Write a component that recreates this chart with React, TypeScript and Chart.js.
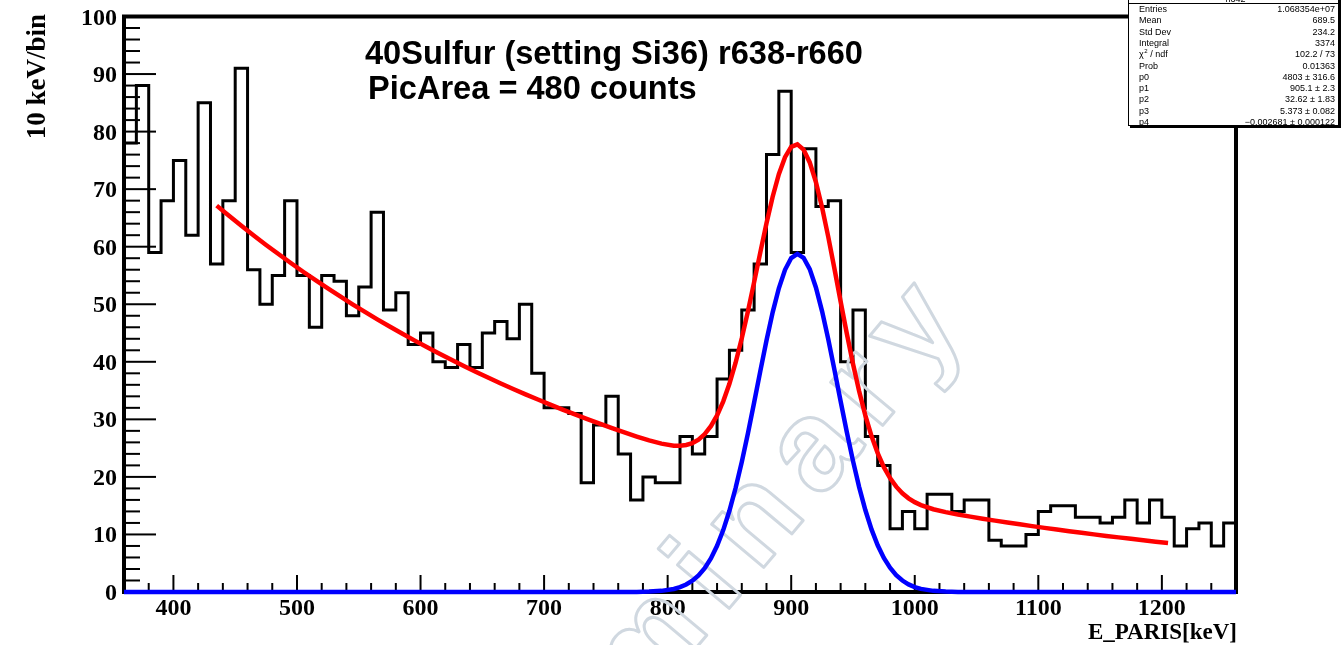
import React, { useEffect, useRef } from "react";
import { Chart, registerables } from "chart.js";

Chart.register(...registerables);

// ---------------- data ----------------
const binStarts = [
  360, 370, 380, 390, 400, 410, 420, 430, 440, 450,
  460, 470, 480, 490, 500, 510, 520, 530, 540, 550,
  560, 570, 580, 590, 600, 610, 620, 630, 640, 650,
  660, 670, 680, 690, 700, 710, 720, 730, 740, 750,
  760, 770, 780, 790, 800, 810, 820, 830, 840, 850,
  860, 870, 880, 890, 900, 910, 920, 930, 940, 950,
  960, 970, 980, 990, 1000, 1010, 1020, 1030, 1040, 1050,
  1060, 1070, 1080, 1090, 1100, 1110, 1120, 1130, 1140, 1150,
  1160, 1170, 1180, 1190, 1200, 1210, 1220, 1230, 1240, 1250,
];
const lastBinUpperEdge = 1260;
const counts = [
  78, 88, 59, 68, 75, 62, 85, 57, 68, 91,
  56, 50, 55, 68, 55, 46, 55, 54, 48, 53,
  66, 49, 52, 43, 45, 40, 39, 43, 39, 45,
  47, 44, 50, 38, 32, 32, 31, 19, 29, 34,
  24, 16, 20, 19, 19, 27, 24, 27, 37, 42,
  49, 57, 76, 87, 59, 77, 67, 68, 40, 49,
  27, 22, 11, 14, 11, 17, 17, 14, 16, 16,
  9, 8, 8, 10, 14, 15, 15, 13, 13, 12,
  13, 16, 12, 16, 13, 8, 11, 12, 8, 12,
];

// total fit (red)
const totalFitX = [
  435, 445, 455, 465, 475, 485, 495, 505, 515, 525, 535, 545, 555, 565, 575, 585, 595,
  605, 615, 625, 635, 645, 655, 665, 675, 685, 695, 705, 715, 725, 735, 745, 755, 765,
  775, 785, 795, 805, 810, 815, 820, 825, 830, 835, 840, 845, 850, 855, 860, 865, 870,
  875, 880, 885, 890, 895, 900, 905, 910, 915, 920, 925, 930, 935, 940, 945, 950, 955,
  960, 965, 970, 975, 980, 985, 990, 995, 1000, 1005, 1015, 1025, 1035, 1045, 1055,
  1065, 1075, 1085, 1095, 1105, 1115, 1125, 1135, 1145, 1155, 1165, 1175, 1185, 1195, 1205,
];
const totalFitY = [
  67.14, 65.36, 63.63, 61.95, 60.31, 58.72, 57.16, 55.65, 54.18, 52.75, 51.35, 49.99, 48.67, 47.38, 46.13, 44.91, 43.72,
  42.57, 41.44, 40.34, 39.28, 38.24, 37.23, 36.24, 35.28, 34.35, 33.44, 32.56, 31.7, 30.86, 30.04, 29.25, 28.47, 27.73,
  27.01, 26.34, 25.78, 25.43, 25.41, 25.54, 25.88, 26.48, 27.44, 28.82, 30.69, 33.13, 36.18, 39.84, 44.08, 48.79, 53.84,
  59.02, 64.06, 68.69, 72.6, 75.56, 77.34, 77.79, 76.88, 74.64, 71.22, 66.82, 61.71, 56.17, 50.48, 44.91, 39.66, 34.89,
  30.69, 27.1, 24.12, 21.7, 19.79, 18.3, 17.16, 16.28, 15.61, 15.11, 14.38, 13.88, 13.46, 13.1, 12.74,
  12.4, 12.08, 11.76, 11.45, 11.14, 10.85, 10.56, 10.28, 10.01, 9.74, 9.49, 9.24, 8.99, 8.75, 8.52,
];

// gaussian peak component (blue)
const peakFitX = [
  360, 745, 765, 775, 785, 795, 805, 810, 815, 820, 825, 830, 835, 840, 845, 850, 855,
  860, 865, 870, 875, 880, 885, 890, 895, 900, 905, 910, 915, 920, 925, 930, 935, 940,
  945, 950, 955, 960, 965, 970, 975, 980, 985, 990, 995, 1000, 1005, 1015, 1025, 1035,
  1045, 1060, 1260,
];
const peakFitY = [
  0, 0, 0.01, 0.02, 0.07, 0.2, 0.53, 0.84, 1.3, 1.96, 2.88, 4.15, 5.84, 8.02, 10.76, 14.11, 18.06,
  22.59, 27.59, 32.92, 38.38, 43.69, 48.59, 52.77, 55.99, 58.03, 58.74, 58.08, 56.1, 52.92, 48.77, 43.9, 38.59, 33.14,
  27.8, 22.78, 18.23, 14.25, 10.88, 8.12, 5.91, 4.21, 2.93, 1.99, 1.32, 0.85, 0.54, 0.2, 0.07, 0.02,
  0.01, 0, 0,
];

const xTickLabels = [400, 500, 600, 700, 800, 900, 1000, 1100, 1200];
const yTickLabels = [0, 10, 20, 30, 40, 50, 60, 70, 80, 90, 100];

const titleLines = ["40Sulfur (setting Si36) r638-r660", "PicArea = 480 counts"];
const xAxisTitle = "E_PARIS[keV]";
const yAxisTitle = "10 keV/bin";
const statsTitle = "h342";
const statsLabels = ["Entries", "Mean", "Std Dev", "Integral", "CHI2", "Prob", "p0", "p1", "p2", "p3", "p4"];
const statsValues = [
  "1.068354e+07", "689.5", "234.2", "3374", "102.2 / 73", "0.01363",
  "4803 \u00b1 316.6", "905.1 \u00b1 2.3", "32.62 \u00b1 1.83", "5.373 \u00b1 0.082",
  "\u22120.002681 \u00b1 0.000122",
];
const watermarkText = "Preliminary";

// ---------------- drawing helpers ----------------
const AXIS_FONT = 'bold 24px "Liberation Serif"';

const rootStylePlugin = {
  id: "rootStyle",
  beforeDatasetsDraw(chart: any) {
    const { ctx, chartArea: a, scales } = chart;
    const x = scales.x;
    const y = scales.y;
    ctx.save();
    ctx.strokeStyle = "#000";
    ctx.lineWidth = 2;
    // x ticks (inside, from the bottom)
    for (let v = 380; v <= 1240; v += 20) {
      const px = x.getPixelForValue(v);
      const len = v % 100 === 0 ? 17 : 9;
      ctx.beginPath();
      ctx.moveTo(px, a.bottom);
      ctx.lineTo(px, a.bottom - len);
      ctx.stroke();
    }
    // y ticks (inside, from the left)
    for (let v = 2; v < 100; v += 2) {
      const py = y.getPixelForValue(v);
      const len = v % 10 === 0 ? 32 : 16;
      ctx.beginPath();
      ctx.moveTo(a.left, py);
      ctx.lineTo(a.left + len, py);
      ctx.stroke();
    }
    // frame
    ctx.lineWidth = 4;
    ctx.strokeRect(a.left, a.top, a.right - a.left, a.bottom - a.top);

    // tick labels
    ctx.fillStyle = "#000";
    ctx.font = AXIS_FONT;
    ctx.textAlign = "center";
    ctx.textBaseline = "alphabetic";
    xTickLabels.forEach((v) => {
      ctx.fillText(String(v), x.getPixelForValue(v), 615);
    });
    ctx.textAlign = "right";
    yTickLabels.forEach((v) => {
      ctx.fillText(String(v), 117, y.getPixelForValue(v) + 8);
    });

    // axis titles
    ctx.font = 'bold 23px "Liberation Serif"';
    ctx.textAlign = "right";
    ctx.fillText(xAxisTitle, 1237, 639);
    ctx.save();
    ctx.font = 'bold 27px "Liberation Serif"';
    ctx.translate(45, 14);
    ctx.rotate(-Math.PI / 2);
    ctx.textAlign = "right";
    ctx.fillText(yAxisTitle, 0, 0);
    ctx.restore();
    ctx.restore();
  },
  afterDatasetDraw(chart: any, args: any) {
    if (args.index !== 2) return;
    const ctx = chart.ctx;
    ctx.save();
    ctx.font = 'bold 128px "Liberation Sans"';
    try {
      (ctx as any).letterSpacing = "18px";
    } catch (e) {}
    ctx.translate(978, 312);
    ctx.rotate((-50 * Math.PI) / 180);
    ctx.textAlign = "right";
    ctx.textBaseline = "alphabetic";
    ctx.strokeStyle = "rgb(208,216,224)";
    ctx.lineWidth = 3;
    ctx.lineJoin = "round";
    ctx.strokeText(watermarkText, 0, 0);
    ctx.restore();
  },
  afterDraw(chart: any) {
    const ctx = chart.ctx;
    ctx.save();
    // title texts
    ctx.fillStyle = "#000";
    ctx.font = 'bold 32.6px "Liberation Sans"';
    ctx.textAlign = "left";
    ctx.textBaseline = "alphabetic";
    ctx.fillText(titleLines[0], 365, 63.5);
    ctx.fillText(titleLines[1], 368, 98.5);

    // stats box
    const bx = 1128;
    const bw = 211;
    const by = -20;
    const bb = 126;
    ctx.fillStyle = "#000";
    ctx.fillRect(bx + 2, by + 2, bw, bb - by); // shadow
    ctx.fillStyle = "#fff";
    ctx.fillRect(bx, by, bw, bb - by);
    ctx.strokeStyle = "#000";
    ctx.lineWidth = 1;
    ctx.strokeRect(bx + 0.5, by + 0.5, bw - 1, bb - by - 1);
    ctx.beginPath();
    ctx.moveTo(bx, 3.5);
    ctx.lineTo(bx + bw, 3.5);
    ctx.stroke();

    ctx.fillStyle = "#000";
    ctx.font = '9px "Liberation Sans"';
    ctx.textAlign = "center";
    ctx.fillText(statsTitle, bx + bw / 2 + 2, 1.5);

    statsLabels.forEach((lab, i) => {
      const base = 12 + 11.3 * i;
      ctx.textAlign = "left";
      if (lab === "CHI2") {
        ctx.fillText("\u03c7", 1139, base);
        const w = ctx.measureText("\u03c7").width;
        ctx.font = '6px "Liberation Sans"';
        ctx.fillText("2", 1139 + w + 0.5, base - 4);
        ctx.font = '9px "Liberation Sans"';
        ctx.fillText(" / ndf", 1139 + w + 4, base);
      } else {
        ctx.fillText(lab, 1139, base);
      }
      ctx.textAlign = "right";
      ctx.fillText(statsValues[i], 1335, base);
    });
    ctx.restore();
  },
};

export default function App() {
  const canvasRef = useRef<HTMLCanvasElement | null>(null);

  useEffect(() => {
    const canvas = canvasRef.current;
    if (!canvas) return;

    const histData = binStarts.map((e, i) => ({ x: e, y: counts[i] }));
    histData.push({ x: lastBinUpperEdge, y: counts[counts.length - 1] });
    const totalData = totalFitX.map((e, i) => ({ x: e, y: totalFitY[i] }));
    const peakData = peakFitX.map((e, i) => ({ x: e, y: peakFitY[i] }));

    const chart = new Chart(canvas, {
      type: "line",
      data: {
        datasets: [
          {
            label: "gaus",
            data: peakData,
            borderColor: "#0000ff",
            borderWidth: 4.5,
            pointRadius: 0,
            tension: 0,
            fill: false,
            clip: false,
          } as any,
          {
            label: "fit",
            data: totalData,
            borderColor: "#ff0000",
            borderWidth: 4.5,
            pointRadius: 0,
            tension: 0,
            fill: false,
            clip: false,
          } as any,
          {
            label: "h342",
            data: histData,
            borderColor: "#000000",
            borderWidth: 3,
            pointRadius: 0,
            stepped: "before",
            fill: false,
            clip: false,
          } as any,
        ],
      },
      options: {
        animation: false,
        responsive: false,
        devicePixelRatio: 1,
        events: [],
        layout: { padding: { left: 124, right: 106, top: 16.5, bottom: 53 } },
        scales: {
          x: { type: "linear", min: 360, max: 1260, display: false },
          y: { type: "linear", min: 0, max: 100, display: false },
        },
        plugins: {
          legend: { display: false },
          tooltip: { enabled: false },
          title: { display: false },
        },
      },
      plugins: [rootStylePlugin],
    });

    return () => {
      chart.destroy();
    };
  }, []);

  return (
    <div style={{ position: "absolute", left: 0, top: 0, width: 1342, height: 645, background: "#fff" }}>
      <canvas ref={canvasRef} width={1342} height={645} style={{ display: "block" }} />
    </div>
  );
}
